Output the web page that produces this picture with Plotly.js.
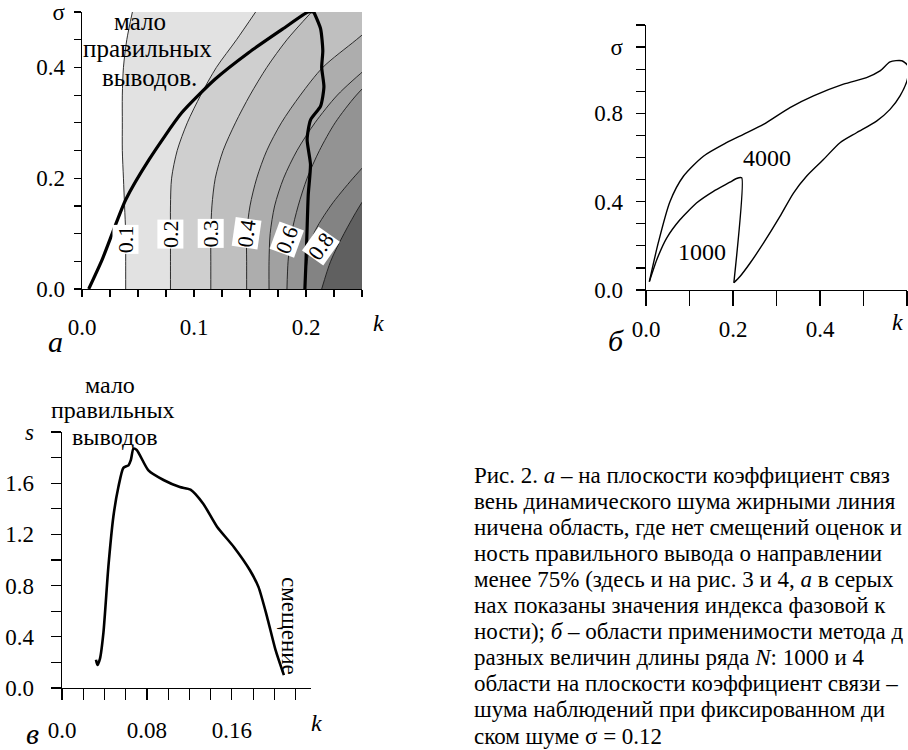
<!DOCTYPE html>
<html>
<head>
<meta charset="utf-8">
<script src="https://cdn.plot.ly/plotly-3.0.1.min.js"></script>
<style>
html,body{margin:0;padding:0;background:#fff;}
#chart{width:908px;height:750px;}
</style>
</head>
<body>
<div id="chart"></div>
<script>
// ---------- Panel a: phase-coherence index contours over (k, sigma) ----------
const sigmaGrid = [0, 0.05, 0.10, 0.15, 0.20, 0.25, 0.30, 0.35, 0.40, 0.45, 0.50];
const iso01 = [0.039, 0.039, 0.039, 0.038, 0.037, 0.036, 0.036, 0.036, 0.037, 0.040, 0.045];
const iso02 = [0.079, 0.079, 0.079, 0.079, 0.080, 0.085, 0.094, 0.106, 0.120, 0.138, 0.155];
const iso03 = [0.115, 0.115, 0.115, 0.116, 0.119, 0.126, 0.137, 0.150, 0.165, 0.183, 0.205];
const iso04 = [0.147, 0.147, 0.147, 0.150, 0.156, 0.165, 0.178, 0.195, 0.215, 0.245, 0.275];
const iso05 = [0.167, 0.167, 0.168, 0.172, 0.180, 0.192, 0.208, 0.228, 0.255, 0.285, 0.315];
const iso06 = [0.183, 0.184, 0.187, 0.193, 0.201, 0.212, 0.226, 0.245, 0.270, 0.300, 0.330];
const iso07 = [0.199, 0.201, 0.207, 0.222, 0.242, 0.265, 0.290, 0.320, 0.350, 0.380, 0.410];
const iso08 = [0.214, 0.222, 0.234, 0.248, 0.265, 0.290, 0.320, 0.350, 0.380, 0.410, 0.440];
const isoLevels = ['0.1', '0.2', '0.3', '0.4', '0.5', '0.6', '0.7', '0.8'];
const isoFill = ['#e2e2e2', '#cfcfcf', '#bfbfbf', '#adadad', '#a1a1a1', '#939393', '#838383', '#606060'];

// thick line: few correct conclusions boundary
const fewK = [0.006, 0.018, 0.039, 0.060, 0.089, 0.119, 0.149, 0.179, 0.202, 0.207];
const fewS = [0.000, 0.053, 0.161, 0.234, 0.318, 0.379, 0.427, 0.469, 0.500, 0.500];
// thick wavy line: bias boundary
const biasK = [0.207, 0.213, 0.215, 0.214, 0.216, 0.213, 0.204, 0.201, 0.204, 0.202, 0.201, 0.200, 0.199];
const biasS = [0.500, 0.470, 0.430, 0.400, 0.365, 0.330, 0.305, 0.270, 0.225, 0.170, 0.110, 0.050, 0.000];

// ---------- Panel б: applicability regions for N = 1000 and N = 4000 ----------
const n4000K = [0.0077, 0.028, 0.055, 0.086, 0.132, 0.185, 0.224, 0.270, 0.331, 0.385, 0.454, 0.507, 0.538, 0.561, 0.588, 0.602, 0.601, 0.584, 0.561, 0.530, 0.484, 0.446, 0.408, 0.369, 0.339, 0.308, 0.270, 0.239, 0.216, 0.202];
const n4000S = [0.038, 0.212, 0.400, 0.515, 0.606, 0.667, 0.705, 0.750, 0.826, 0.879, 0.932, 0.962, 0.992, 1.033, 1.038, 1.015, 0.955, 0.879, 0.818, 0.765, 0.712, 0.667, 0.591, 0.515, 0.439, 0.333, 0.212, 0.121, 0.061, 0.033];
const n1000K = [0.0077, 0.0245, 0.0475, 0.078, 0.116, 0.155, 0.193, 0.208, 0.220, 0.202];
const n1000S = [0.038, 0.136, 0.235, 0.318, 0.394, 0.447, 0.488, 0.505, 0.508, 0.033];

// ---------- Panel в: region in (k, s) plane ----------
const vK = [0.032, 0.0333, 0.0358, 0.039, 0.0437, 0.0484, 0.0531, 0.0578, 0.0626, 0.0648, 0.0673, 0.0704, 0.0814, 0.0956, 0.111, 0.121, 0.133, 0.146, 0.162, 0.177, 0.185, 0.193, 0.201, 0.209];
const vS = [0.22, 0.18, 0.23, 0.43, 0.95, 1.34, 1.57, 1.72, 1.74, 1.78, 1.87, 1.86, 1.70, 1.625, 1.57, 1.55, 1.44, 1.26, 1.10, 0.92, 0.79, 0.56, 0.30, 0.10];

// tick definitions
const aXticks = [0, 0.025, 0.05, 0.075, 0.1, 0.125, 0.15, 0.175, 0.2, 0.225, 0.25];
const aXtext  = ['0.0', '', '', '', '0.1', '', '', '', '0.2', '', ''];
const aYticks = [0, 0.05, 0.1, 0.15, 0.2, 0.25, 0.3, 0.35, 0.4, 0.45, 0.5];
const aYtext  = ['0.0', '', '', '', '0.2', '', '', '', '0.4', '', 'σ'];
const bXticks = [0, 0.1, 0.2, 0.3, 0.4, 0.5, 0.6];
const bXtext  = ['0.0', '', '0.2', '', '0.4', '', ''];
const bYticks = [0, 0.1, 0.2, 0.3, 0.4, 0.5, 0.6, 0.7, 0.8, 0.9, 1.0, 1.1, 1.2];
const bYtext  = ['0.0', '', '', '', '0.4', '', '', '', '0.8', '', '', 'σ', ''];
const vXticks = [0, 0.02, 0.04, 0.06, 0.08, 0.10, 0.12, 0.14, 0.16, 0.18, 0.20, 0.22];
const vXtext  = ['0.0', '', '', '', '0.08', '', '', '', '0.16', '', '', ''];
const vYticks = [0, 0.2, 0.4, 0.6, 0.8, 1.0, 1.2, 1.4, 1.6, 1.8, 2.0];
const vYtext  = ['0.0', '', '0.4', '', '0.8', '', '1.2', '', '1.6', '', '<i>s</i>'];

const captionLines = [
  'Рис. 2. <i>а</i> – на плоскости коэффициент связ',
  'вень динамического шума жирными линия',
  'ничена область, где нет смещений оценок и',
  'ность правильного вывода о направлении',
  'менее 75% (здесь и на рис. 3 и 4, <i>а</i> в серых',
  'нах показаны значения индекса фазовой к',
  'ности); <i>б</i> – области применимости метода д',
  'разных величин длины ряда <i>N</i>: 1000 и 4',
  'области на плоскости коэффициент связи –',
  'шума наблюдений при фиксированном ди',
  'ском шуме σ = 0.12'
];

// ---------- build ----------
const FONT = '"Liberation Serif", "Times New Roman", Times, serif';
const W = 908, H = 750;
const P = px => px / W;
const Q = py => 1 - py / H;

const traces = [];
const isoAll = [iso01, iso02, iso03, iso04, iso05, iso06, iso07, iso08];
isoAll.forEach((iso, i) => {
  traces.push({
    x: iso.concat([0.45, 0.45]), y: sigmaGrid.concat([0.5, 0]),
    xaxis: 'x', yaxis: 'y', mode: 'lines', fill: 'toself',
    fillcolor: isoFill[i], line: {width: 0, color: isoFill[i]},
    hoverinfo: 'skip', name: 'level ' + isoLevels[i]
  });
});
isoAll.forEach((iso, i) => {
  traces.push({
    x: iso, y: sigmaGrid, xaxis: 'x', yaxis: 'y', mode: 'lines',
    line: {width: 0.9, color: '#1a1a1a', shape: 'spline', smoothing: 0.8},
    hoverinfo: 'skip', name: 'iso ' + isoLevels[i]
  });
});
traces.push({x: fewK, y: fewS, xaxis: 'x', yaxis: 'y', mode: 'lines',
  line: {width: 3.2, color: '#000', shape: 'spline', smoothing: 0.6}, hoverinfo: 'skip'});
traces.push({x: biasK, y: biasS, xaxis: 'x', yaxis: 'y', mode: 'lines',
  line: {width: 3.2, color: '#000', shape: 'spline', smoothing: 0.6}, hoverinfo: 'skip'});

traces.push({x: n4000K, y: n4000S, xaxis: 'x2', yaxis: 'y2', mode: 'lines',
  line: {width: 1.4, color: '#000', shape: 'spline', smoothing: 0.7}, hoverinfo: 'skip'});
traces.push({x: n1000K, y: n1000S, xaxis: 'x2', yaxis: 'y2', mode: 'lines',
  line: {width: 1.4, color: '#000', shape: 'spline', smoothing: 0.5}, hoverinfo: 'skip'});

traces.push({x: vK, y: vS, xaxis: 'x3', yaxis: 'y3', mode: 'lines',
  line: {width: 2.6, color: '#000', shape: 'spline', smoothing: 0.6}, hoverinfo: 'skip'});

function ax(domain, range, tickvals, ticktext, anchor, ticklen, standoff) {
  return {
    domain: domain, range: range, anchor: anchor,
    tickmode: 'array', tickvals: tickvals, ticktext: ticktext,
    ticks: 'outside', ticklen: ticklen, tickwidth: 1.2, tickcolor: '#000',
    showline: true, linecolor: '#000', linewidth: 1.4,
    showgrid: false, zeroline: false, fixedrange: true,
    ticklabelstandoff: standoff,
    tickfont: {family: FONT, size: 23, color: '#000'}
  };
}

const layout = {
  width: W, height: H,
  margin: {l: 0, r: 0, t: 0, b: 0},
  paper_bgcolor: '#fff', plot_bgcolor: 'rgba(0,0,0,0)',
  showlegend: false,
  font: {family: FONT, color: '#000'},
  xaxis:  ax([P(82), P(362)], [0, 0.25], aXticks, aXtext, 'y', 7, 10),
  yaxis:  ax([Q(289), Q(12)], [0, 0.5], aYticks, aYtext, 'x', 7, 4),
  xaxis2: ax([P(646), P(907)], [0, 0.6], bXticks, bXtext, 'y2', 15, 3),
  yaxis2: ax([Q(290), Q(25)], [0, 1.2], bYticks, bYtext, 'x2', 9, 8),
  xaxis3: ax([P(62), P(311)], [0, 0.2345], vXticks, vXtext, 'y3', 11, 10),
  yaxis3: ax([Q(688), Q(432)], [0, 2.0], vYticks, vYtext, 'x3', 10, 12),
  annotations: []
};

const ann = layout.annotations;
function txt(text, px, py, opts) {
  ann.push(Object.assign({
    text: text, x: P(px), y: Q(py), xref: 'paper', yref: 'paper',
    showarrow: false, xanchor: 'center', yanchor: 'middle',
    font: {family: FONT, size: 24, color: '#000'}
  }, opts || {}));
}
function dataTxt(text, x, y, xr, yr, angle, opts) {
  ann.push(Object.assign({
    text: text, x: x, y: y, xref: xr, yref: yr, showarrow: false,
    xanchor: 'center', yanchor: 'middle', textangle: angle,
    font: {family: FONT, size: 22, color: '#000'}
  }, opts || {}));
}

// panel a texts
txt('мало', 140, 22, {font: {family: FONT, size: 25, color: '#000'}});
txt('правильных', 147, 48, {font: {family: FONT, size: 25, color: '#000'}});
txt('выводов.', 149, 77, {font: {family: FONT, size: 25, color: '#000'}});
const isoLabelOpts = {bgcolor: '#fff', borderpad: 0};
dataTxt('0.1', 0.039, 0.089, 'x', 'y', -90, isoLabelOpts);
dataTxt('0.2', 0.079, 0.100, 'x', 'y', -90, isoLabelOpts);
dataTxt('0.3', 0.115, 0.100, 'x', 'y', -90, isoLabelOpts);
dataTxt('0.4', 0.147, 0.100, 'x', 'y', -82, isoLabelOpts);
dataTxt('0.6', 0.183, 0.089, 'x', 'y', -70, isoLabelOpts);
dataTxt('0.8', 0.213, 0.077, 'x', 'y', -55, isoLabelOpts);
txt('<i>k</i>', 378, 323);
txt('<i>а</i>', 55, 341, {font: {family: FONT, size: 30, color: '#000'}});

// panel б texts
dataTxt('4000', 0.277, 0.598, 'x2', 'y2', 0, {font: {family: FONT, size: 24, color: '#000'}});
dataTxt('1000', 0.128, 0.174, 'x2', 'y2', 0, {font: {family: FONT, size: 24, color: '#000'}});
txt('<i>k</i>', 897, 322);
txt('<i>б</i>', 616, 340, {font: {family: FONT, size: 30, color: '#000'}});

// panel в texts
txt('мало', 110, 385);
txt('правильных', 113, 410);
txt('выводов', 114, 437);
txt('смещение', 290, 626, {textangle: 90, font: {family: FONT, size: 23, color: '#000'}});
txt('<i>k</i>', 316, 723);
txt('<i>в</i>', 32, 733, {font: {family: FONT, size: 30, color: '#000'}});

// caption
captionLines.forEach((line, i) => {
  txt(line, 472, 475 + i * 26.1, {xanchor: 'left', font: {family: FONT, size: 23, color: '#000'}});
});

Plotly.newPlot('chart', traces, layout, {staticPlot: true, displayModeBar: false});
</script>
</body>
</html>
